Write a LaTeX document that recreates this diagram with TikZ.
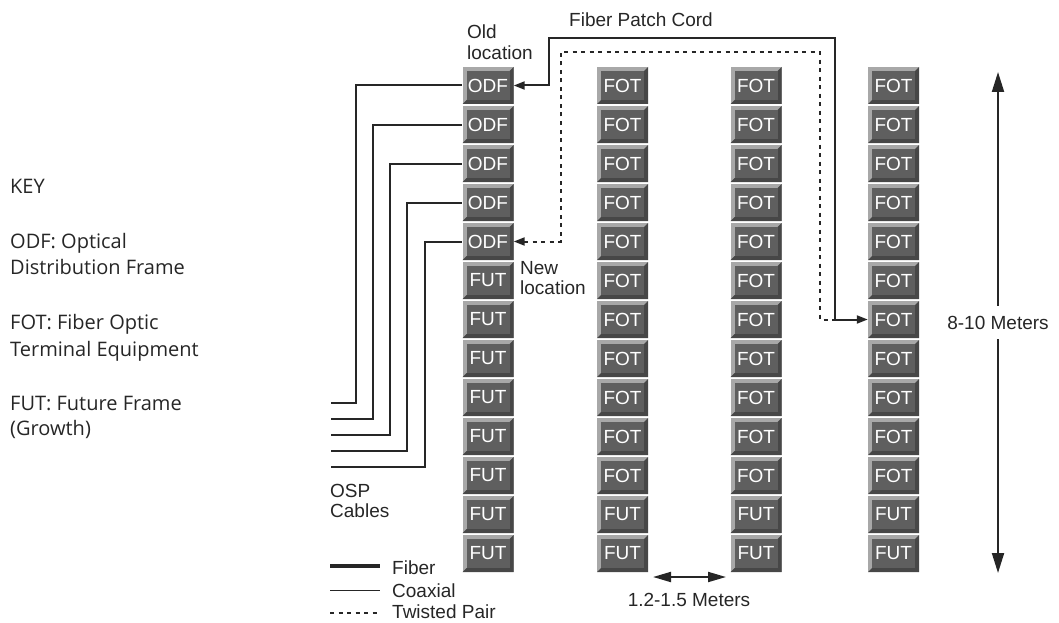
\documentclass[tikz,border=0pt]{standalone}
\usepackage{fontspec}
\setmainfont{Liberation Sans}
\newfontfamily\keyfont{Open Sans}
\usetikzlibrary{arrows.meta}

\definecolor{ink}{HTML}{262626}
\definecolor{bevlite}{HTML}{A8A8A8}
\definecolor{bevdark}{HTML}{474747}
\definecolor{bevface}{HTML}{5F5F5F}

\tikzset{
  rack/.style={minimum width=51pt, minimum height=37pt, inner sep=0pt,
    text=white, font=\fontsize{19}{21}\selectfont, fill=bevlite,
    path picture={
      \fill[bevdark] (path picture bounding box.south west)
        -- (path picture bounding box.south east)
        -- (path picture bounding box.north east)
        -- ([shift={(-4pt,-4pt)}]path picture bounding box.north east)
        -- ([shift={(-4pt,4pt)}]path picture bounding box.south east)
        -- ([shift={(4pt,4pt)}]path picture bounding box.south west) -- cycle;
      \fill[bevface] ([shift={(4pt,4pt)}]path picture bounding box.south west)
        rectangle ([shift={(-4pt,-4pt)}]path picture bounding box.north east);
    }},
  cable/.style={line width=2pt, draw=ink},
  patch/.style={line width=2pt, draw=ink},
  twisted/.style={line width=2pt, draw=ink, dash pattern=on 4pt off 4.5pt},
  cordtip/.tip={Stealth[length=11pt, width=8pt, inset=0pt]},
  bigtip/.tip={Stealth[length=20pt, width=12pt, inset=0pt]},
  midtip/.tip={Stealth[length=18pt, width=10pt, inset=0pt]},
  dimline/.style={line width=2pt, draw=ink},
  lbl/.style={font=\fontsize{19}{20.5}\selectfont, text=ink, inner sep=0pt, align=left},
  keytxt/.style={font=\keyfont\fontsize{20}{26}\selectfont, text=ink, inner sep=0pt, anchor=base west},
}

\begin{document}
\begin{tikzpicture}[x=1pt, y=-1pt]
\useasboundingbox (0,0) rectangle (1059,623);

% frame columns
\foreach \row in {0,...,12} {
  \ifnum\row<5 \def\frametag{ODF}\else\def\frametag{FUT}\fi
  \node[rack] (c1r\row) at (488,85.5+39*\row) {\frametag};
}
\foreach \col/\cx in {2/622.5,3/756,4/893.5}
  \foreach \row in {0,...,12} {
    \ifnum\row<11 \def\frametag{FOT}\else\def\frametag{FUT}\fi
    \node[rack] (c\col r\row) at (\cx,85.5+39*\row) {\frametag};
  }

% OSP cables
\foreach \i in {0,...,4} {
  \coordinate (osp\i) at (331,403+16*\i);
  \draw[cable] (osp\i) -- (355.5+17.3*\i,403+16*\i) |- (c1r\i.west);
}
\node[lbl, anchor=north west] (osplbl) at (330,484) {OSP\\Cables};

% patch cords
\draw[patch, cordtip-cordtip] (c1r0.east) -- ++(35,0) |- (835,38) |- (c4r6.west);
\draw[twisted, cordtip-] (c1r4.east) -- ++(47,0) |- (820,52) |- (835,319.5);
\node[lbl] (cordlbl) at (641,20) {Fiber Patch Cord};
\node[lbl, anchor=north west] (oldlbl) at (467,25) {Old\\location};
\node[lbl, anchor=north west] (newlbl) at (520,261) {New\\location};

% dimensions
\coordinate (vtop) at (998,72);
\coordinate (vbot) at (998,573);
\draw[dimline, bigtip-bigtip] (vtop) -- node[lbl, fill=white, inner xsep=2pt, inner ysep=10pt] (heightlbl) {8-10 Meters} (vbot);
\coordinate (hleft) at (653,577);
\coordinate (hright) at (726,577);
\draw[dimline, midtip-midtip] (hleft) -- (hright);
\node[lbl] (gaplbl) at (689,600) {1.2-1.5 Meters};

% legend
\coordinate (lgfib) at (330,566);
\coordinate (lgcoax) at (330,590);
\coordinate (lgtp) at (330,613);
\draw[line width=4pt, ink] (lgfib) -- ++(50,0);
\draw[line width=1pt, ink] (lgcoax) -- ++(50,0);
\draw[line width=1.2pt, ink, dash pattern=on 4pt off 4.5pt] (lgtp) -- ++(50,0);
\node[lbl, anchor=west] (fiblbl) at (392,568) {Fiber};
\node[lbl, anchor=west] (coaxlbl) at (392,591) {Coaxial};
\node[lbl, anchor=west] (tplbl) at (392,612) {Twisted Pair};

% key
\foreach \y/\txt [count=\k] in {193/KEY, 248/ODF: Optical, 274.5/Distribution Frame,
    329.5/FOT: Fiber Optic, 356/Terminal Equipment, 410.5/FUT: Future Frame, 435/(Growth)}
  \node[keytxt] (key\k) at (10,\y) {\txt};

\end{tikzpicture}
\end{document}
